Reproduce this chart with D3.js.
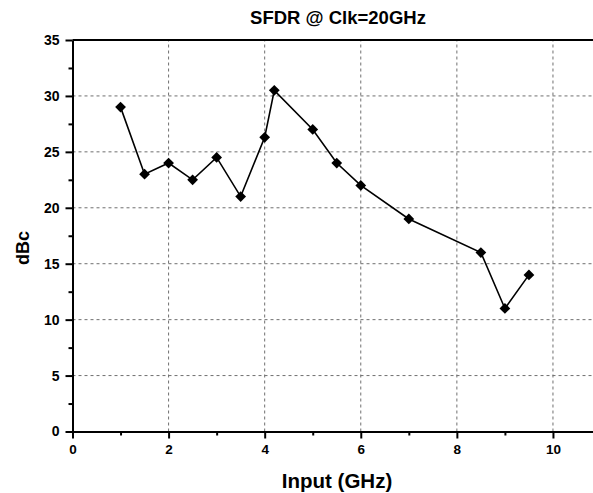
<!DOCTYPE html>
<meta charset="utf-8">
<style>
body { margin: 0; background: #fff; }
text { font-family: "Liberation Sans", Arial, sans-serif; font-weight: bold; fill: #000; }
.grid line { stroke: #6f6f6f; stroke-width: 1; stroke-dasharray: 3,3; }
.axis path, .axis line { stroke: #000; }
</style>
<body>
<script src="https://d3js.org/d3.v7.min.js"></script>
<script>

var inputGHz = [1, 1.5, 2, 2.5, 3, 3.5, 4, 4.2, 5, 5.5, 6, 7, 8.5, 9, 9.5];
var sfdr = [29, 23, 24, 22.5, 24.5, 21, 26.3, 30.5, 27, 24, 22, 19, 16, 11, 14];
var xTicks = [0, 2, 4, 6, 8, 10];
var yTicks = [0, 5, 10, 15, 20, 25, 30, 35];

var width = 593,
    height = 493;

var x = d3.scaleLinear()
    .domain([0, 11])
    .range([72.5, 601]);

var y = d3.scaleLinear()
    .domain([0, 35])
    .range([431.5, 40]);

var svg = d3.select("body").append("svg")
    .attr("width", width)
    .attr("height", height);

// dashed grid
var grid = svg.append("g").attr("class", "grid");
grid.selectAll(".gx")
    .data(xTicks.filter(function(d) { return d > 0; }))
  .enter().append("line")
    .attr("x1", function(d) { return x(d); })
    .attr("x2", function(d) { return x(d); })
    .attr("y1", y(0))
    .attr("y2", y(35));
grid.selectAll(".gy")
    .data(yTicks.filter(function(d) { return d > 0 && d < 35; }))
  .enter().append("line")
    .attr("x1", x(0))
    .attr("x2", x(11))
    .attr("y1", function(d) { return y(d); })
    .attr("y2", function(d) { return y(d); });

// minor ticks
svg.append("g")
    .attr("class", "axis")
    .attr("transform", "translate(0," + y(0) + ")")
    .call(d3.axisBottom(x).tickValues([1, 3, 5, 7, 9, 11]).tickSize(4).tickFormat(""))
    .call(function(g) { g.selectAll("line").attr("stroke-width", 2); g.select(".domain").remove(); });
svg.append("g")
    .attr("class", "axis")
    .attr("transform", "translate(" + x(0) + ",0)")
    .call(d3.axisLeft(y).tickValues([2.5, 7.5, 12.5, 17.5, 22.5, 27.5, 32.5]).tickSize(4).tickFormat(""))
    .call(function(g) { g.selectAll("line").attr("stroke-width", 2); g.select(".domain").remove(); });

// main axes
var xAxis = svg.append("g")
    .attr("class", "axis")
    .attr("transform", "translate(0," + y(0) + ")")
    .call(d3.axisBottom(x).tickValues(xTicks).tickSize(7).tickSizeOuter(0).tickPadding(6));
xAxis.select(".domain").attr("stroke-width", 2);
xAxis.selectAll("line").attr("stroke-width", 2);
xAxis.selectAll("text").style("font-size", "13.5px");

var yAxis = svg.append("g")
    .attr("class", "axis")
    .attr("transform", "translate(" + x(0) + ",0)")
    .call(d3.axisLeft(y).tickValues(yTicks).tickSize(7).tickSizeOuter(0).tickPadding(6));
yAxis.select(".domain").attr("stroke-width", 2);
yAxis.selectAll("line").attr("stroke-width", 2);
yAxis.selectAll("text").style("font-size", "14px");

// top frame
svg.append("line")
    .attr("x1", x(0))
    .attr("x2", x(11))
    .attr("y1", y(35))
    .attr("y2", y(35))
    .attr("stroke", "#000")
    .attr("stroke-width", 2);

// series
var pts = inputGHz.map(function(d, i) { return [d, sfdr[i]]; });

svg.append("path")
    .datum(pts)
    .attr("fill", "none")
    .attr("stroke", "#000")
    .attr("stroke-width", 1.6)
    .attr("d", d3.line()
        .x(function(d) { return x(d[0]); })
        .y(function(d) { return y(d[1]); }));

svg.selectAll(".pt")
    .data(pts)
  .enter().append("path")
    .attr("class", "pt")
    .attr("d", d3.symbol().type(d3.symbolSquare).size(58))
    .attr("transform", function(d) { return "translate(" + x(d[0]) + "," + y(d[1]) + ") rotate(45)"; })
    .attr("fill", "#000");

// titles
svg.append("text")
    .attr("x", 338)
    .attr("y", 24)
    .attr("text-anchor", "middle")
    .style("font-size", "18.5px")
    .text("SFDR @ Clk=20GHz");

svg.append("text")
    .attr("x", 337)
    .attr("y", 488)
    .attr("text-anchor", "middle")
    .style("font-size", "20.5px")
    .text("Input (GHz)");

svg.append("text")
    .attr("transform", "translate(29,248) rotate(-90)")
    .attr("text-anchor", "middle")
    .style("font-size", "18px")
    .text("dBc");

</script>
